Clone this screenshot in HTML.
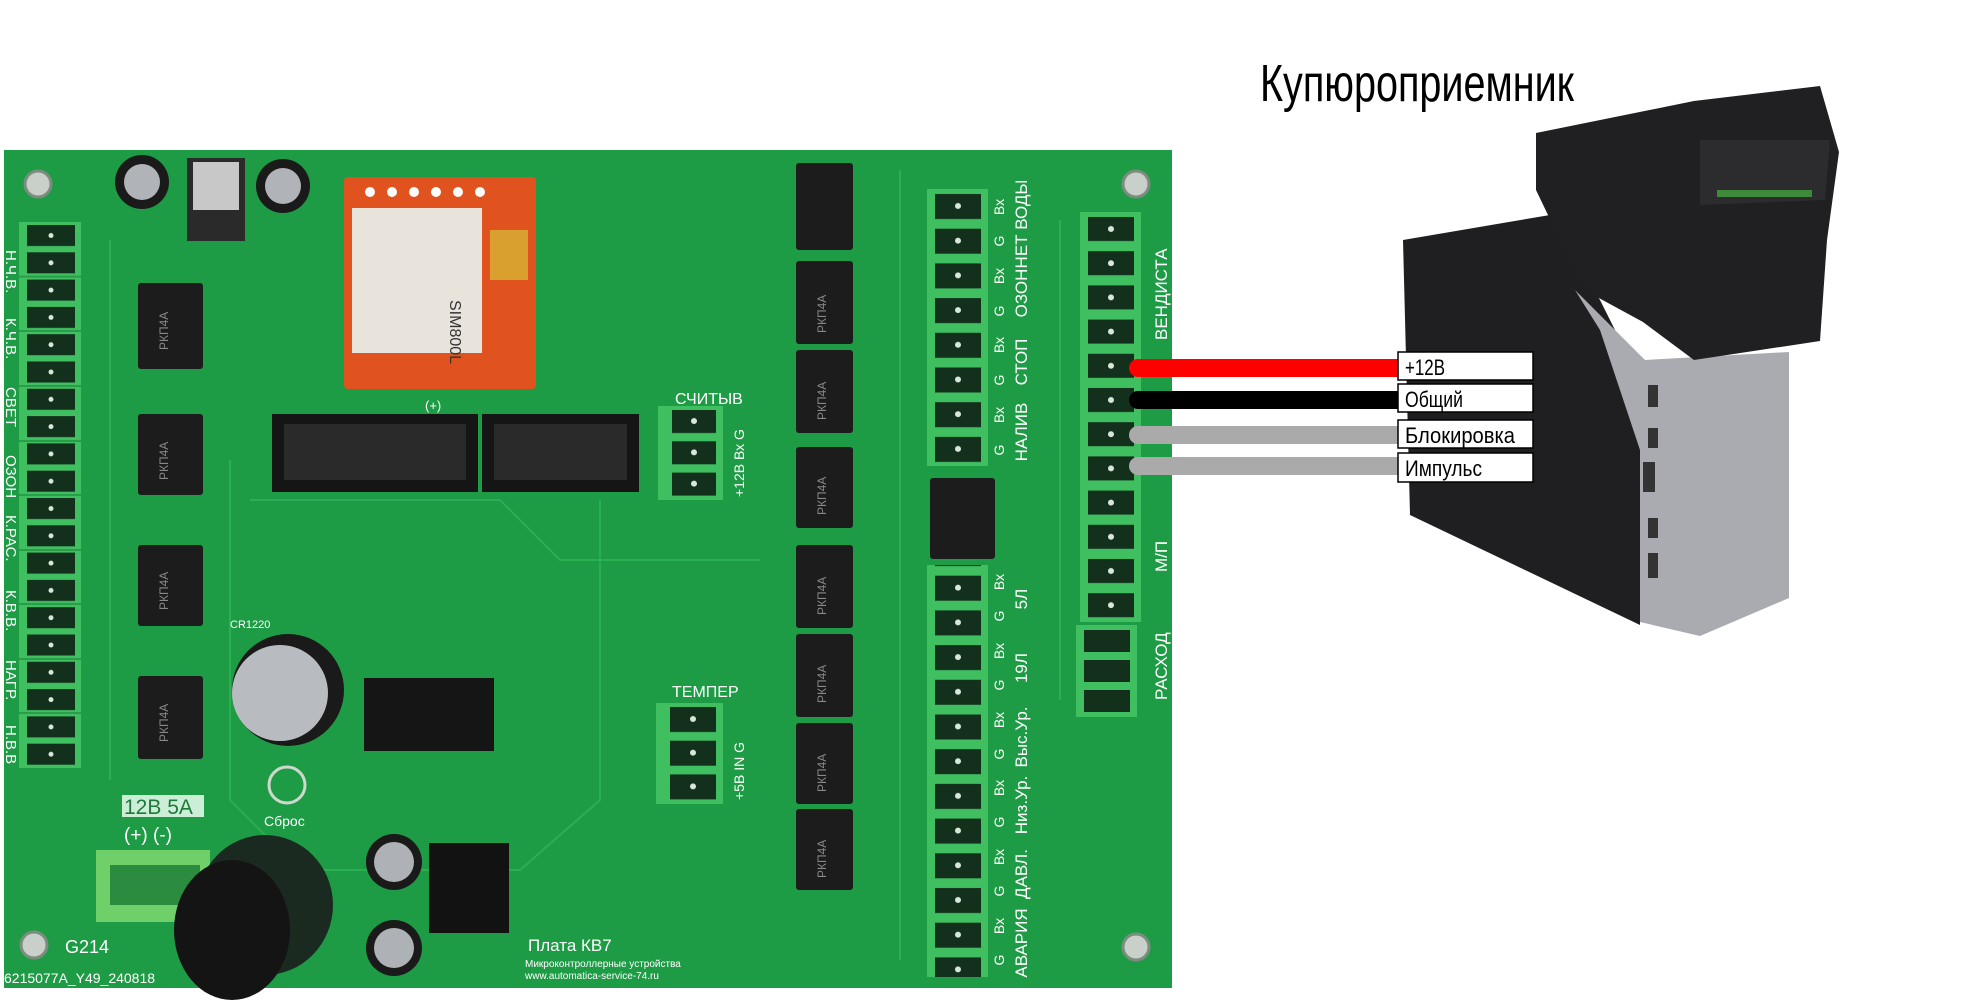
<!DOCTYPE html>
<html><head><meta charset="utf-8">
<style>
html,body{margin:0;padding:0;background:#fff;}
svg{display:block;}
text{font-family:"Liberation Sans",sans-serif;}
</style></head>
<body>
<svg width="1972" height="1003" viewBox="0 0 1972 1003" xmlns="http://www.w3.org/2000/svg">
<defs>
<pattern id="pL" x="19" y="222" width="62" height="27.3" patternUnits="userSpaceOnUse">
<rect width="62" height="27.3" fill="#3fbf60"/>
<rect x="8" y="3" width="48" height="21" fill="#12301c"/>
<circle cx="32" cy="13.5" r="2.5" fill="#d8e8d8"/>
</pattern>
<pattern id="pM" x="927" y="189" width="61" height="34.7" patternUnits="userSpaceOnUse">
<rect width="61" height="34.7" fill="#3fbf60"/>
<rect x="8" y="5" width="46" height="25" fill="#12301c"/>
<circle cx="31" cy="17" r="3" fill="#d8e8d8"/>
</pattern>
<pattern id="pR" x="1080" y="212" width="61" height="34.2" patternUnits="userSpaceOnUse">
<rect width="61" height="34.2" fill="#3fbf60"/>
<rect x="8" y="5" width="46" height="24" fill="#12301c"/>
<circle cx="31" cy="17" r="3" fill="#d8e8d8"/>
</pattern>
<pattern id="pS" x="658" y="406" width="65" height="31.3" patternUnits="userSpaceOnUse">
<rect width="65" height="31.3" fill="#3fbf60"/>
<rect x="14" y="4" width="44" height="23" fill="#12301c"/>
<circle cx="36" cy="15" r="3" fill="#d8e8d8"/>
</pattern>
<pattern id="pT" x="656" y="703" width="67" height="33.7" patternUnits="userSpaceOnUse">
<rect width="67" height="33.7" fill="#3fbf60"/>
<rect x="14" y="4" width="46" height="25" fill="#12301c"/>
<circle cx="37" cy="16" r="3" fill="#d8e8d8"/>
</pattern>
</defs>

<!-- board -->
<rect x="4" y="150" width="1168" height="838" fill="#1e9b45"/>
<g fill="none" stroke="#2fb457" stroke-width="2" opacity="0.8">
<path d="M230 460 L230 800 L300 870 L520 870 L600 800 L600 500"/>
<path d="M110 240 L110 780"/><path d="M900 170 L900 960"/><path d="M1060 220 L1060 700"/>
<path d="M250 500 L500 500 L560 560 L760 560"/>
</g>
<g fill="#c9cfc9" stroke="#7c8c7f" stroke-width="3">
<circle cx="38" cy="184" r="13"/><circle cx="1136" cy="184" r="13"/>
<circle cx="34" cy="945" r="13"/><circle cx="1136" cy="947" r="13"/>
</g>

<!-- left terminals -->
<rect x="19" y="222" width="62" height="546" fill="url(#pL)"/>
<g stroke="#2a9d4a" stroke-width="2"><line x1="19" y1="276.6" x2="81" y2="276.6"/><line x1="19" y1="331" x2="81" y2="331"/><line x1="19" y1="386" x2="81" y2="386"/><line x1="19" y1="441" x2="81" y2="441"/><line x1="19" y1="495" x2="81" y2="495"/><line x1="19" y1="550" x2="81" y2="550"/><line x1="19" y1="604" x2="81" y2="604"/><line x1="19" y1="659" x2="81" y2="659"/><line x1="19" y1="713" x2="81" y2="713"/></g>
<g fill="#fff" font-size="15">
<text transform="translate(6,250) rotate(90)">Н.Ч.В.</text>
<text transform="translate(6,318) rotate(90)">К.Ч.В.</text>
<text transform="translate(6,387) rotate(90)">СВЕТ</text>
<text transform="translate(6,455) rotate(90)">ОЗОН</text>
<text transform="translate(6,515) rotate(90)">К.РАС.</text>
<text transform="translate(6,590) rotate(90)">К.В.В.</text>
<text transform="translate(6,660) rotate(90)">НАГР.</text>
<text transform="translate(6,725) rotate(90)">Н.В.В</text>
</g>

<!-- left chips -->
<g fill="#1c1c1c"><rect x="138" y="283" width="65" height="86" rx="3"/><rect x="138" y="414" width="65" height="81" rx="3"/><rect x="138" y="545" width="65" height="81" rx="3"/><rect x="138" y="676" width="65" height="83" rx="3"/></g>
<g fill="#888" font-size="12"><text transform="translate(168,350) rotate(-90)">РКП4А</text><text transform="translate(168,480) rotate(-90)">РКП4А</text><text transform="translate(168,610) rotate(-90)">РКП4А</text><text transform="translate(168,742) rotate(-90)">РКП4А</text></g>

<!-- top caps & regulator -->
<circle cx="142" cy="182" r="27" fill="#1a1a1a"/><circle cx="142" cy="182" r="18" fill="#b0b4b8"/>
<circle cx="283" cy="186" r="27" fill="#1a1a1a"/><circle cx="283" cy="186" r="18" fill="#b0b4b8"/>
<rect x="187" y="158" width="58" height="83" fill="#2a2a2a"/><rect x="193" y="162" width="46" height="48" fill="#c8c8c8"/>

<!-- SIM800L -->
<rect x="344" y="177" width="192" height="212" fill="#e0521e" rx="4"/>
<rect x="352" y="208" width="130" height="145" fill="#e8e4dc"/>
<rect x="490" y="230" width="38" height="50" fill="#d9a030"/>
<g fill="#fff"><circle cx="370" cy="192" r="5"/><circle cx="392" cy="192" r="5"/><circle cx="414" cy="192" r="5"/><circle cx="436" cy="192" r="5"/><circle cx="458" cy="192" r="5"/><circle cx="480" cy="192" r="5"/></g>
<text transform="translate(450,300) rotate(90)" font-size="16" fill="#333">SIM800L</text>
<text x="425" y="410" font-size="13" fill="#fff">(+)</text>

<!-- headers -->
<rect x="272" y="414" width="206" height="78" fill="#151515"/><rect x="284" y="424" width="182" height="56" fill="#2a2a2a"/>
<rect x="482" y="414" width="157" height="78" fill="#151515"/><rect x="494" y="424" width="133" height="56" fill="#2a2a2a"/>

<!-- СЧИТЫВ / ТЕМПЕР -->
<text x="675" y="404" font-size="16" fill="#fff">СЧИТЫВ</text>
<rect x="658" y="406" width="65" height="94" fill="url(#pS)"/>
<text transform="translate(744,497) rotate(-90)" font-size="14" fill="#fff">+12В  Вх  G</text>
<text x="672" y="697" font-size="16" fill="#fff">ТЕМПЕР</text>
<rect x="656" y="703" width="67" height="101" fill="url(#pT)"/>
<text transform="translate(744,800) rotate(-90)" font-size="14" fill="#fff">+5В  IN  G</text>

<!-- middle chips -->
<g fill="#1c1c1c"><rect x="796" y="163" width="57" height="87" rx="3"/><rect x="796" y="261" width="57" height="83" rx="3"/><rect x="796" y="350" width="57" height="83" rx="3"/><rect x="796" y="447" width="57" height="81" rx="3"/><rect x="796" y="545" width="57" height="83" rx="3"/><rect x="796" y="634" width="57" height="83" rx="3"/><rect x="796" y="723" width="57" height="81" rx="3"/><rect x="796" y="809" width="57" height="81" rx="3"/><rect x="930" y="478" width="65" height="81" rx="3"/></g>
<g fill="#888" font-size="12"><text transform="translate(826,333) rotate(-90)">РКП4А</text><text transform="translate(826,420) rotate(-90)">РКП4А</text><text transform="translate(826,515) rotate(-90)">РКП4А</text><text transform="translate(826,615) rotate(-90)">РКП4А</text><text transform="translate(826,703) rotate(-90)">РКП4А</text><text transform="translate(826,792) rotate(-90)">РКП4А</text><text transform="translate(826,878) rotate(-90)">РКП4А</text></g>

<!-- mid-right terminals -->
<rect x="927" y="189" width="61" height="277" fill="url(#pM)"/>
<rect x="927" y="565" width="61" height="412" fill="url(#pM)"/>
<g fill="#fff" font-size="14" text-anchor="middle">
<text transform="translate(1004,450) rotate(-90)">G</text><text transform="translate(1004,415) rotate(-90)">Вх</text>
<text transform="translate(1004,380) rotate(-90)">G</text><text transform="translate(1004,345) rotate(-90)">Вх</text>
<text transform="translate(1004,311) rotate(-90)">G</text><text transform="translate(1004,276) rotate(-90)">Вх</text>
<text transform="translate(1004,241) rotate(-90)">G</text><text transform="translate(1004,207) rotate(-90)">Вх</text>
<text transform="translate(1004,960) rotate(-90)">G</text><text transform="translate(1004,926) rotate(-90)">Вх</text>
<text transform="translate(1004,891) rotate(-90)">G</text><text transform="translate(1004,857) rotate(-90)">Вх</text>
<text transform="translate(1004,822) rotate(-90)">G</text><text transform="translate(1004,788) rotate(-90)">Вх</text>
<text transform="translate(1004,754) rotate(-90)">G</text><text transform="translate(1004,720) rotate(-90)">Вх</text>
<text transform="translate(1004,685) rotate(-90)">G</text><text transform="translate(1004,651) rotate(-90)">Вх</text>
<text transform="translate(1004,616) rotate(-90)">G</text><text transform="translate(1004,582) rotate(-90)">Вх</text>
</g>
<g fill="#fff" font-size="17" text-anchor="middle">
<text transform="translate(1027,432) rotate(-90)">НАЛИВ</text>
<text transform="translate(1027,362) rotate(-90)">СТОП</text>
<text transform="translate(1027,293) rotate(-90)">ОЗОН</text>
<text transform="translate(1027,224) rotate(-90)">НЕТ ВОДЫ</text>
<text transform="translate(1027,943) rotate(-90)">АВАРИЯ</text>
<text transform="translate(1027,874) rotate(-90)">ДАВЛ.</text>
<text transform="translate(1027,805) rotate(-90)">Низ.Ур.</text>
<text transform="translate(1027,737) rotate(-90)">Выс.Ур.</text>
<text transform="translate(1027,668) rotate(-90)">19Л</text>
<text transform="translate(1027,599) rotate(-90)">5Л</text>
</g>

<!-- right terminals -->
<rect x="1080" y="212" width="61" height="410" fill="url(#pR)"/>
<rect x="1076" y="625" width="61" height="92" fill="#3fbf60"/>
<g fill="#12301c"><rect x="1084" y="630" width="46" height="22"/><rect x="1084" y="660" width="46" height="22"/><rect x="1084" y="690" width="46" height="22"/></g>
<g fill="#fff" font-size="17">
<text transform="translate(1167,340) rotate(-90)">ВЕНДИСТА</text>
<text transform="translate(1167,572) rotate(-90)">М/П</text>
<text transform="translate(1167,700) rotate(-90)">РАСХОД</text>
</g>

<!-- battery, connectors -->
<text x="230" y="628" font-size="11" fill="#fff">CR1220</text>
<circle cx="288" cy="690" r="56" fill="#1a1a1a"/>
<circle cx="280" cy="693" r="48" fill="#b8bcc0"/>
<rect x="364" y="678" width="130" height="73" fill="#151515"/>
<circle cx="287" cy="785" r="18" fill="none" stroke="#cfd8cf" stroke-width="3"/>
<text x="264" y="826" font-size="14" fill="#fff">Сброс</text>

<!-- power -->
<rect x="122" y="795" width="82" height="22" fill="#cdeed6"/>
<text x="124" y="814" font-size="21" fill="#1e7a3a">12В 5А</text>
<text x="124" y="841" font-size="19" fill="#fff">(+)  (-)</text>
<rect x="96" y="850" width="114" height="72" fill="#6fd06a"/>
<rect x="110" y="865" width="90" height="40" fill="#2b8b3e"/>
<ellipse cx="265" cy="905" rx="68" ry="70" fill="#1b2a20"/>
<ellipse cx="232" cy="930" rx="58" ry="70" fill="#141414"/>
<rect x="429" y="843" width="80" height="90" fill="#121212"/>
<circle cx="394" cy="862" r="28" fill="#1a1a1a"/><circle cx="394" cy="862" r="20" fill="#aeb2b6"/>
<circle cx="394" cy="948" r="28" fill="#1a1a1a"/><circle cx="394" cy="948" r="20" fill="#aeb2b6"/>
<text x="65" y="953" font-size="18" fill="#fff">G214</text>
<text x="4" y="983" font-size="14" fill="#fff" font-family="Liberation Mono">6215077A_Y49_240818</text>
<text x="528" y="951" font-size="17" fill="#fff">Плата КВ7</text>
<text x="525" y="967" font-size="10" fill="#fff" font-family="Liberation Serif">Микроконтроллерные устройства</text>
<text x="525" y="979" font-size="10" fill="#fff" font-family="Liberation Serif">www.automatica-service-74.ru</text>

<!-- bill acceptor -->
<polygon points="1403,240 1550,215 1600,300 1640,380 1640,625 1410,515" fill="#1f1f21"/>
<polygon points="1575,290 1645,360 1789,352 1789,598 1700,636 1640,622 1640,450 1600,330" fill="#a9abb0"/>
<polygon points="1536,133 1694,101 1820,86 1839,152 1827,240 1820,341 1694,360 1643,322 1586,291 1560,240 1536,190" fill="#202022"/>
<polygon points="1700,140 1830,140 1825,200 1700,205" fill="#2c2c2e"/>
<rect x="1717" y="190" width="95" height="7" fill="#3e8a3a"/>
<g fill="#333"><rect x="1648" y="385" width="10" height="22"/><rect x="1648" y="428" width="10" height="20"/><rect x="1643" y="462" width="12" height="30"/><rect x="1648" y="518" width="10" height="20"/><rect x="1648" y="553" width="10" height="25"/></g>

<!-- wires -->
<g stroke-linecap="round" stroke-width="18">
<line x1="1138" y1="368" x2="1400" y2="368" stroke="#ff0000"/>
<line x1="1138" y1="400" x2="1400" y2="400" stroke="#000"/>
<line x1="1138" y1="435" x2="1400" y2="435" stroke="#aaa"/>
<line x1="1138" y1="466" x2="1400" y2="466" stroke="#aaa"/>
</g>
<g fill="#fff" stroke="#000" stroke-width="1.5">
<rect x="1398" y="352" width="135" height="28"/>
<rect x="1398" y="384" width="135" height="28"/>
<rect x="1398" y="420" width="135" height="28"/>
<rect x="1398" y="453" width="135" height="29"/>
</g>
<g fill="#000" font-size="22">
<text x="1405" y="375" textLength="40" lengthAdjust="spacingAndGlyphs">+12В</text>
<text x="1405" y="407" textLength="58" lengthAdjust="spacingAndGlyphs">Общий</text>
<text x="1405" y="443" textLength="110" lengthAdjust="spacingAndGlyphs">Блокировка</text>
<text x="1405" y="476" textLength="77" lengthAdjust="spacingAndGlyphs">Импульс</text>
</g>
<text x="1260" y="101" font-size="52" fill="#000" textLength="314" lengthAdjust="spacingAndGlyphs">Купюроприемник</text>
</svg>
</body></html>
